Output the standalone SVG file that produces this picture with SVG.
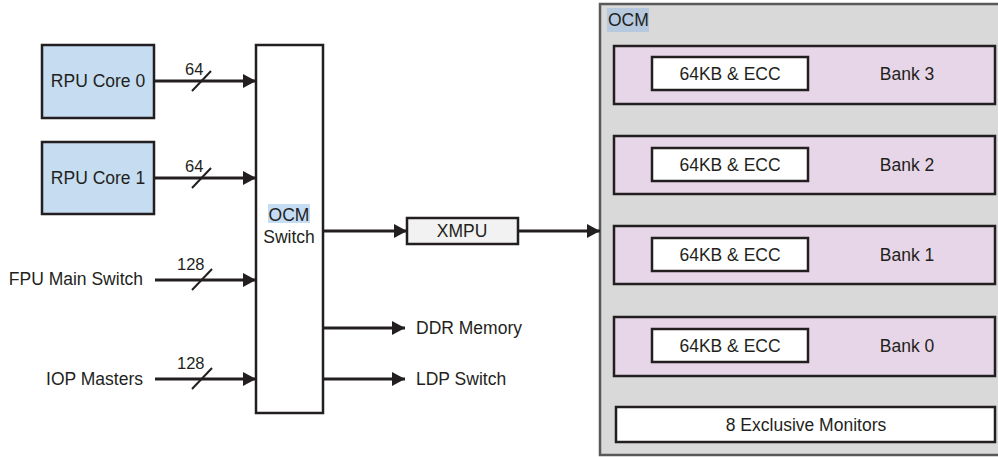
<svg xmlns="http://www.w3.org/2000/svg" width="998" height="457" viewBox="0 0 998 457">
<style>
text{font-family:"Liberation Sans",Arial,sans-serif;fill:#231f20;}
.t17{font-size:17.5px;}
.t16{font-size:16.5px;}
.box{stroke:#231f20;stroke-width:2.5;}
.ln{stroke:#231f20;stroke-width:2.8;fill:none;}
.sl{stroke:#231f20;stroke-width:2;}
</style>
<defs>
<marker id="ah" markerWidth="13" markerHeight="14" refX="13" refY="7" orient="auto" markerUnits="userSpaceOnUse">
<path d="M0,0 L13,7 L0,14 Z" fill="#231f20"/>
</marker>
</defs>
<rect width="998" height="457" fill="#ffffff"/>

<g id="ocm">
<rect x="600" y="4" width="420" height="451" fill="#d9d9d9" stroke="#595959" stroke-width="2.5"/>
<rect x="607" y="8" width="42" height="24" fill="#b7c9de"/>
<text class="t17" x="608" y="26">OCM</text>
</g>

<g id="bank3">
<rect class="box" x="614" y="46" width="381" height="58" fill="#e7d6e8"/>
<rect class="box" x="652" y="57" width="156" height="33" fill="#ffffff"/>
<text class="t17" x="730" y="80" text-anchor="middle">64KB &amp; ECC</text>
<text class="t17" x="907" y="80" text-anchor="middle">Bank 3</text>
</g>
<g id="bank2">
<rect class="box" x="614" y="136" width="381" height="58" fill="#e7d6e8"/>
<rect class="box" x="652" y="148" width="156" height="33" fill="#ffffff"/>
<text class="t17" x="730" y="171" text-anchor="middle">64KB &amp; ECC</text>
<text class="t17" x="907" y="171" text-anchor="middle">Bank 2</text>
</g>
<g id="bank1">
<rect class="box" x="614" y="226" width="381" height="58" fill="#e7d6e8"/>
<rect class="box" x="652" y="238" width="156" height="33" fill="#ffffff"/>
<text class="t17" x="730" y="261" text-anchor="middle">64KB &amp; ECC</text>
<text class="t17" x="907" y="261" text-anchor="middle">Bank 1</text>
</g>
<g id="bank0">
<rect class="box" x="614" y="317" width="381" height="59" fill="#e7d6e8"/>
<rect class="box" x="652" y="329" width="156" height="33" fill="#ffffff"/>
<text class="t17" x="730" y="352" text-anchor="middle">64KB &amp; ECC</text>
<text class="t17" x="907" y="352" text-anchor="middle">Bank 0</text>
</g>
<g id="monitors">
<rect class="box" x="616" y="407" width="379" height="35" fill="#ffffff"/>
<text class="t17" x="806" y="431" text-anchor="middle">8 Exclusive Monitors</text>
</g>

<g id="rpu0">
<rect class="box" x="42" y="45" width="112" height="73" fill="#c5dcf1"/>
<text class="t17" x="98" y="87" text-anchor="middle">RPU Core 0</text>
</g>
<g id="rpu1">
<rect class="box" x="42" y="142" width="112" height="72" fill="#c5dcf1"/>
<text class="t17" x="98" y="184" text-anchor="middle">RPU Core 1</text>
</g>
<g id="fpu">
<text class="t17" x="143" y="285" text-anchor="end">FPU Main Switch</text>
</g>
<g id="iop">
<text class="t17" x="143" y="385" text-anchor="end">IOP Masters</text>
</g>

<g id="ocmswitch">
<rect class="box" x="256" y="45" width="67" height="368" fill="#ffffff"/>
<rect x="268" y="204" width="42" height="19" fill="#c5dcf5"/>
<text class="t17" x="289" y="221" text-anchor="middle">OCM</text>
<text class="t17" x="289" y="243" text-anchor="middle">Switch</text>
</g>

<g id="xmpu">
<rect x="407" y="218" width="111" height="26" fill="#f2f2f2" stroke="#231f20" stroke-width="2.5"/>
<text class="t17" x="462" y="237" text-anchor="middle">XMPU</text>
</g>

<g id="ddr"><text class="t17" x="416" y="334">DDR Memory</text></g>
<g id="ldp"><text class="t17" x="416" y="385">LDP Switch</text></g>

<g id="connectors">
<line class="ln" x1="154" y1="81" x2="256" y2="81" marker-end="url(#ah)"/>
<line class="sl" x1="192" y1="91" x2="211" y2="71"/>
<text class="t16" x="185" y="75">64</text>

<line class="ln" x1="154" y1="178" x2="256" y2="178" marker-end="url(#ah)"/>
<line class="sl" x1="192" y1="188" x2="211" y2="168"/>
<text class="t16" x="185" y="172">64</text>

<line class="ln" x1="155" y1="280" x2="256" y2="280" marker-end="url(#ah)"/>
<line class="sl" x1="192" y1="290" x2="212" y2="269"/>
<text class="t16" x="177" y="270">128</text>

<line class="ln" x1="155" y1="379" x2="256" y2="379" marker-end="url(#ah)"/>
<line class="sl" x1="192" y1="389" x2="212" y2="368"/>
<text class="t16" x="177" y="369">128</text>

<line class="ln" x1="323" y1="231" x2="407" y2="231" marker-end="url(#ah)"/>
<line class="ln" x1="518" y1="231" x2="600" y2="231" marker-end="url(#ah)"/>
<line class="ln" x1="323" y1="328" x2="405" y2="328" marker-end="url(#ah)"/>
<line class="ln" x1="323" y1="379" x2="405" y2="379" marker-end="url(#ah)"/>
</g>
</svg>
